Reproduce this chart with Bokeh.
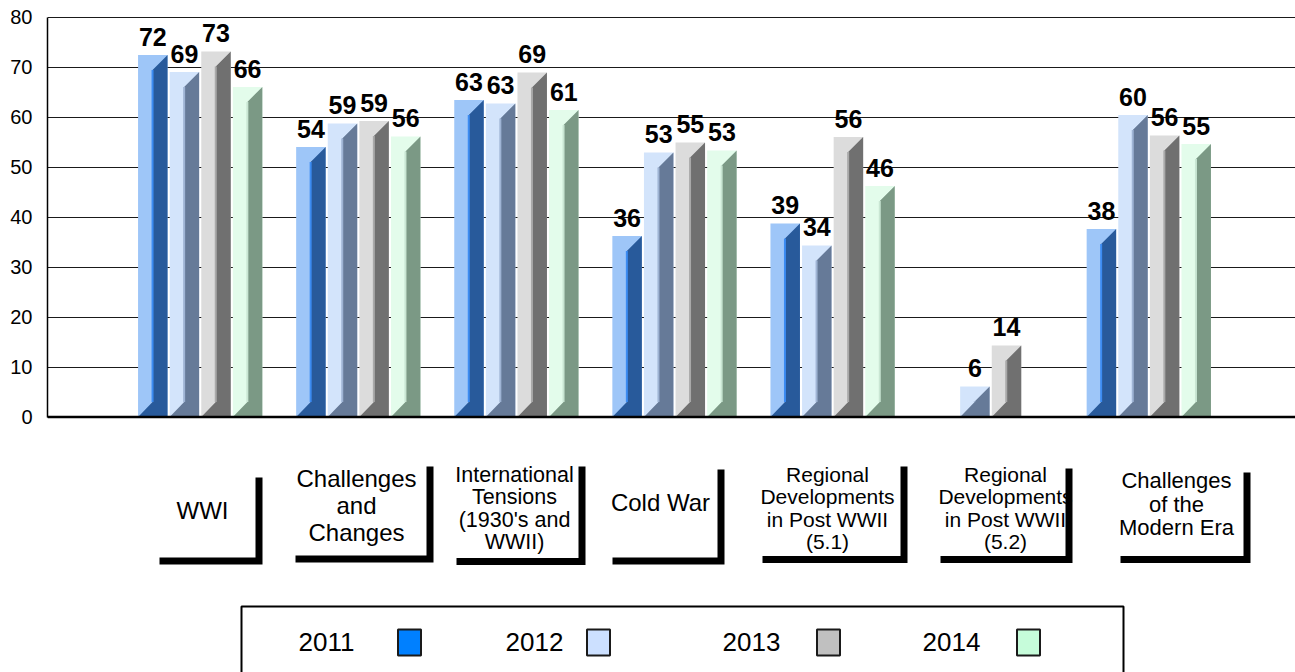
from bokeh.plotting import figure
from bokeh.models import Range1d, FixedTicker, Span
from bokeh.embed import file_html
from bokeh.resources import INLINE
from bokeh.core.properties import value

# ---------------- data ----------------
categories = [
    "WWI",
    "Challenges and Changes",
    "International Tensions (1930's and WWII)",
    "Cold War",
    "Regional Developments in Post WWII (5.1)",
    "Regional Developments in Post WWII (5.2)",
    "Challenges of the Modern Era",
]
years = ["2011", "2012", "2013", "2014"]
v2011 = [72.4, 54.0, 63.4, 36.2, 38.7, None, 37.6]
v2012 = [69.0, 58.7, 62.7, 52.9, 34.3, 6.1, 60.4]
v2013 = [73.1, 59.2, 68.9, 54.9, 56.0, 14.3, 56.3]
v2014 = [66.0, 56.1, 61.4, 53.3, 46.2, None, 54.6]
y_ticks = [0, 10, 20, 30, 40, 50, 60, 70, 80]

label_lines = [
    ["WWI"],
    ["Challenges", "and", "Changes"],
    ["International", "Tensions", "(1930's and", "WWII)"],
    ["Cold War"],
    ["Regional", "Developments", "in Post WWII", "(5.1)"],
    ["Regional", "Developments", "in Post WWII", "(5.2)"],
    ["Challenges", "of the", "Modern Era"],
]

# ---------------- styles / layout ----------------
FONT = "Liberation Sans"
light_cols = ["#9EC6F8", "#D3E4FB", "#DCDCDC", "#E3FCEB"]
dark_cols = ["#285A9B", "#667A98", "#707070", "#7B9985"]
stripe_cols = ["#3C8CF2", "#9FB4D4", "#A9A9A9", "#C9E6D3"]
legend_cols = ["#0080FF", "#CCE0FF", "#C0C0C0", "#C6FCDA"]

UX = 158.1      # px per category unit
X0 = 199.7      # page x of first group centre
Y0 = 416.5      # page y of value 0
UY = 5.0        # px per value unit


def dx(px):
    return (px - X0) / UX


def dy(py):
    return (Y0 - py) / UY


PITCH = 31.6 / UX
BAR_W = 29.5 / UX
FRONT_W = 14.5 / UX
DEPTH = 15.0 / UY

W, H = 1295, 672
p = figure(width=W, height=H, x_range=Range1d(dx(47), dx(W)),
           y_range=Range1d(dy(H), dy(0)), x_axis_type=None,
           output_backend="svg", toolbar_location=None,
           min_border_left=47, min_border_right=0, min_border_top=0,
           min_border_bottom=0)
p.outline_line_color = None
p.background_fill_color = "white"

ax = p.yaxis[0]
ax.ticker = FixedTicker(ticks=y_ticks)
ax.bounds = (0, 80)
ax.axis_line_color = "black"
ax.axis_line_width = 1.5
ax.major_tick_in = 0
ax.major_tick_out = 0
ax.minor_tick_line_color = None
ax.major_label_standoff = 15
ax.major_label_text_font = FONT
ax.major_label_text_font_size = "20px"
ax.major_label_text_color = "black"

g = p.ygrid[0]
g.ticker = FixedTicker(ticks=y_ticks)
g.bounds = (0, 80)
g.grid_line_color = "#1a1a1a"
g.grid_line_width = 1

# ---------------- bars ----------------
series = [v2011, v2012, v2013, v2014]
for si, vals in enumerate(series):
    L, R, T, LBLX, LBLY, LBL = [], [], [], [], [], []
    pxs, pys = [], []
    sx0, sx1, sy0, sy1 = [], [], [], []
    for ci, v in enumerate(vals):
        if v is None:
            continue
        c = ci + (si - 1.5) * PITCH
        x0 = c - BAR_W / 2
        x1 = c + BAR_W / 2
        xm = x0 + FRONT_W
        L.append(x0); R.append(x1); T.append(v)
        LBLX.append(c); LBLY.append(v + 18.5 / UY); LBL.append(str(int(round(v))))
        pxs.append([x0, xm, xm, x1, x1])
        pys.append([0, DEPTH, max(v - DEPTH, DEPTH), v, 0])
        sx0.append(xm); sx1.append(xm)
        sy0.append(DEPTH); sy1.append(max(v - DEPTH, DEPTH))
    p.quad(left=L, right=R, bottom=0, top=T, fill_color=light_cols[si],
           line_color=None)
    p.patches(xs=pxs, ys=pys, fill_color=dark_cols[si], line_color=None)
    p.segment(x0=sx0, y0=sy0, x1=sx1, y1=sy1, line_color=stripe_cols[si],
              line_width=2)
    p.text(x=LBLX, y=LBLY, text=LBL, text_font=value(FONT),
           text_font_style="bold", text_font_size="25px",
           text_align="center", text_baseline="middle", text_color="black")

p.add_layout(Span(location=0, dimension="width", line_color="black",
                  line_width=2.5))

# ---------------- category labels with L brackets ----------------
# (centre x, first line centre y, line pitch, font px)
label_layout = [
    (202, 509.5, 27, 24),
    (356, 478, 27, 24),
    (514, 474, 22.5, 21.5),
    (660, 501.5, 22, 24),
    (827, 473.5, 22.5, 21),
    (1005, 473.5, 22.5, 21),
    (1176, 480, 23.5, 22),
]
# (horizontal left x, outer right x, horizontal y, vertical top y)
bracket_layout = [
    (159, 262, 560.5, 477),
    (295, 433, 558.5, 466),
    (456, 585, 561, 466),
    (612, 724, 560.5, 469),
    (762, 907, 559, 466),
    (940, 1072, 559, 468),
    (1120, 1250, 559, 472),
]
for lines, (cx, c0, pitch, fs) in zip(label_lines, label_layout):
    ys = [dy(c0 + k * pitch) for k in range(len(lines))]
    p.text(x=[dx(cx)] * len(lines), y=ys, text=lines, text_font=value(FONT),
           text_font_size=f"{fs}px", text_align="center",
           text_baseline="middle", text_color="black")

bx, by = [], []
for (hx0, hx1, hy, vy0) in bracket_layout:
    vx = hx1 - 3.5
    bx.append([dx(hx0), dx(vx), dx(vx)])
    by.append([dy(hy), dy(hy), dy(vy0)])
p.multi_line(xs=bx, ys=by, line_color="black", line_width=7,
             line_join="miter", line_cap="butt")

# ---------------- legend ----------------
p.quad(left=dx(241), right=dx(1123), top=dy(606), bottom=dy(720),
       fill_color=None, line_color="black", line_width=2)
leg_text_x = [326, 534, 751, 951]
leg_box_x = [409, 598, 828, 1028]
p.text(x=[dx(v) for v in leg_text_x], y=[dy(641)] * 4, text=years,
       text_font=value(FONT), text_font_size="26px", text_align="center",
       text_baseline="middle", text_color="black")
p.rect(x=[dx(v) for v in leg_box_x], y=[dy(642)] * 4, width=23 / UX,
       height=26 / UY, fill_color=legend_cols, line_color="#1a1a1a",
       line_width=2)

open("out.html", "w").write(file_html(p, INLINE))
